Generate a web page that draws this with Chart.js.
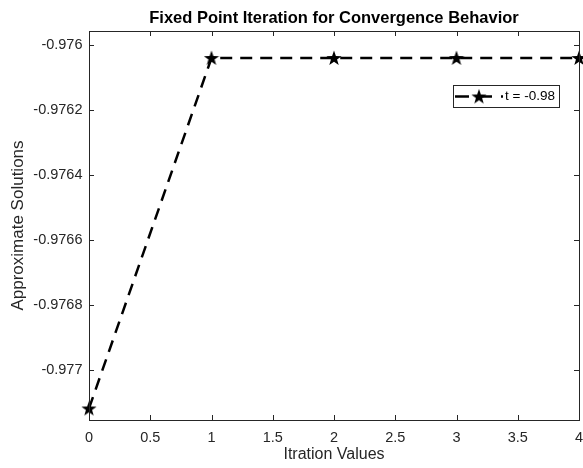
<!DOCTYPE html>
<html>
<head>
<meta charset="utf-8">
<script src="https://cdn.jsdelivr.net/npm/chart.js@4/dist/chart.umd.min.js"></script>
<style>
  html, body { margin: 0; padding: 0; background: #fff; }
  #wrap { width: 583px; height: 468px; position: relative; }
</style>
</head>
<body>
<div id="wrap"><canvas id="chart"></canvas></div>
<script>
// Fixed point iteration, t = -0.98: approximate solution per iteration.
const iterations = [0, 1, 2, 3, 4];
const approxSolutions = [-0.97712, -0.97604, -0.97604, -0.97604, -0.97604];
const yTickValues = [-0.977, -0.9768, -0.9766, -0.9764, -0.9762, -0.976];
const seriesLabel = "t = -0.98";

const FONT = '"Liberation Sans", Arial, Helvetica, sans-serif';
const AXIS_COLOR = "#262626";

// Filled five-pointed star, used as the marker image (MATLAB 'p' marker).
function makeStar(size) {
  const c = document.createElement("canvas");
  c.width = size;
  c.height = size;
  const ctx = c.getContext("2d");
  const cx = size / 2, cy = size / 2 + 0.6;
  const rOut = size / 2, rIn = rOut * 0.4;
  ctx.beginPath();
  for (let i = 0; i < 10; i++) {
    const r = i % 2 === 0 ? rOut : rIn;
    const a = -Math.PI / 2 + (i * Math.PI) / 5;
    const x = cx + r * Math.cos(a), y = cy + r * Math.sin(a);
    i === 0 ? ctx.moveTo(x, y) : ctx.lineTo(x, y);
  }
  ctx.closePath();
  ctx.fillStyle = "#000";
  ctx.fill();
  return c;
}
const star = makeStar(16);

// Box around the axes with inward ticks on all four sides, title on top,
// and a MATLAB-like legend box.
const matlabFrame = {
  id: "matlabFrame",
  afterDraw(chart) {
    const { ctx, chartArea: a, scales } = chart;
    ctx.save();
    ctx.strokeStyle = AXIS_COLOR;
    ctx.lineWidth = 1;
    ctx.strokeRect(Math.round(a.left) + 0.5, Math.round(a.top) + 0.5,
      Math.round(a.right - a.left), Math.round(a.bottom - a.top));
    const TL = 5;
    ctx.beginPath();
    scales.x.ticks.forEach((t) => {
      const x = Math.round(scales.x.getPixelForValue(t.value)) + 0.5;
      ctx.moveTo(x, a.bottom); ctx.lineTo(x, a.bottom - TL);
      ctx.moveTo(x, a.top); ctx.lineTo(x, a.top + TL);
    });
    scales.y.ticks.forEach((t) => {
      const y = Math.round(scales.y.getPixelForValue(t.value)) + 0.5;
      ctx.moveTo(a.left, y); ctx.lineTo(a.left + TL, y);
      ctx.moveTo(a.right, y); ctx.lineTo(a.right - TL, y);
    });
    ctx.stroke();

    // title centred over the axes
    ctx.fillStyle = "#000";
    ctx.font = `bold 16.5px ${FONT}`;
    ctx.textAlign = "center";
    ctx.textBaseline = "middle";
    ctx.fillText("Fixed Point Iteration for Convergence Behavior", (a.left + a.right) / 2, 18);

    // legend
    const lx = 453, ly = 85, lw = 106, lh = 22;
    ctx.fillStyle = "#fff";
    ctx.fillRect(lx, ly, lw, lh);
    ctx.strokeStyle = AXIS_COLOR;
    ctx.strokeRect(lx + 0.5, ly + 0.5, lw, lh);
    const my = ly + lh / 2 + 0.5;
    ctx.strokeStyle = "#000";
    ctx.lineWidth = 2.5;
    ctx.setLineDash([14, 9]);
    ctx.beginPath();
    ctx.moveTo(455, my); ctx.lineTo(503, my);
    ctx.stroke();
    ctx.setLineDash([]);
    ctx.drawImage(star, 479 - star.width / 2, my - star.height / 2);
    ctx.fillStyle = "#000";
    ctx.font = `13.5px ${FONT}`;
    ctx.textAlign = "left";
    ctx.fillText(seriesLabel, 505, my);
    ctx.restore();
  },
};

new Chart(document.getElementById("chart"), {
  type: "line",
  data: {
    labels: iterations,
    datasets: [
      {
        label: seriesLabel,
        data: iterations.map((x, i) => ({ x, y: approxSolutions[i] })),
        borderColor: "#000",
        borderWidth: 2.5,
        borderDash: [12, 8],
        pointStyle: star,
        pointRadius: 8,
        tension: 0,
        fill: false,
        clip: false,
      },
    ],
  },
  options: {
    responsive: true,
    maintainAspectRatio: false,
    animation: false,
    events: [],
    layout: { autoPadding: false, padding: { left: 0, right: 4, top: 31, bottom: 0 } },
    plugins: {
      legend: { display: false },
      title: { display: false },
      tooltip: { enabled: false },
    },
    scales: {
      x: {
        type: "linear",
        min: 0,
        max: 4,
        afterFit: (s) => { s.height = 48; s.paddingLeft = 0; s.paddingRight = 0; },
        ticks: {
          stepSize: 0.5,
          padding: 9,
          color: AXIS_COLOR,
          font: { family: FONT, size: 14.5 },
          maxRotation: 0,
          callback: (v) => String(v),
        },
        grid: { display: false, drawTicks: false },
        border: { display: false },
        title: {
          display: true,
          text: "Itration Values",
          color: AXIS_COLOR,
          font: { family: FONT, size: 16 },
          padding: { top: 3.4, bottom: 3.4 },
        },
      },
      y: {
        type: "linear",
        min: -0.9771556,
        max: -0.9759569,
        afterFit: (s) => { s.width = 89; s.paddingTop = 0; s.paddingBottom = 0; },
        afterBuildTicks: (s) => { s.ticks = yTickValues.map((value) => ({ value })); },
        ticks: {
          padding: 6.5,
          color: AXIS_COLOR,
          font: { family: FONT, size: 14.5 },
          callback: (v) => String(parseFloat(Number(v).toFixed(4))),
        },
        grid: { display: false, drawTicks: false },
        border: { display: false },
        title: {
          display: true,
          text: "Approximate Solutions",
          color: AXIS_COLOR,
          font: { family: FONT, size: 17 },
          padding: { top: 7.8, bottom: 7.8 },
        },
      },
    },
  },
  plugins: [matlabFrame],
});
</script>
</body>
</html>
